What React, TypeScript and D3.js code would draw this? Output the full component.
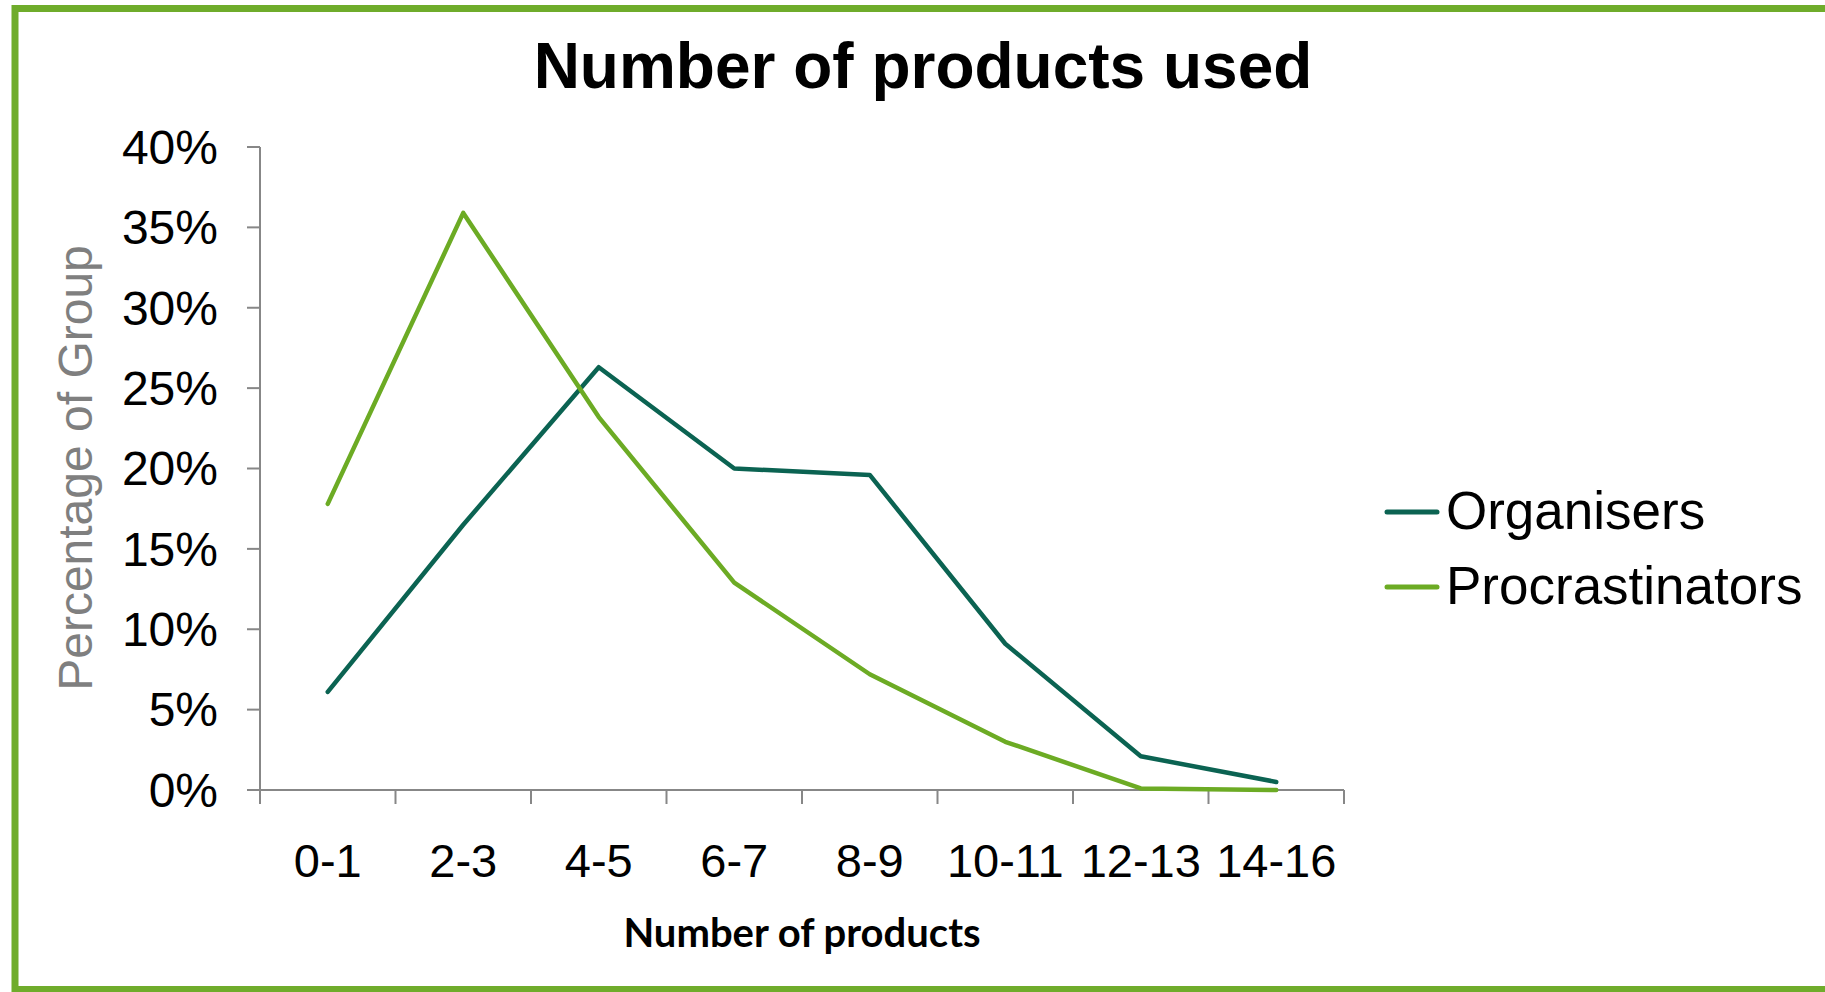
import React from "react";
import * as d3 from "d3";

// Product-count buckets and the share of each group falling into them
const categories = ["0-1", "2-3", "4-5", "6-7", "8-9", "10-11", "12-13", "14-16"];
const organisers = [0.061, 0.165, 0.263, 0.2, 0.196, 0.091, 0.021, 0.005];
const procrastinators = [0.178, 0.359, 0.232, 0.129, 0.072, 0.03, 0.001, 0.0];
const yTickValues = [0, 0.05, 0.1, 0.15, 0.2, 0.25, 0.3, 0.35, 0.4];

const seriesNames = ["Organisers", "Procrastinators"];
const seriesColors = ["#0b6352", "#6cab24"];

const W = 1825;
const H = 992;
const plot = { left: 260, right: 1344, top: 147, bottom: 790 };
const AXIS = "#878787";
const FONT = "'Liberation Sans', Arial, sans-serif";

export default function App() {
  const x = d3
    .scaleBand<string>()
    .domain(categories)
    .range([plot.left, plot.right]);
  const y = d3.scaleLinear().domain([0, 0.4]).range([plot.bottom, plot.top]);
  const cx = (c: string) => (x(c) as number) + x.bandwidth() / 2;

  const line = d3
    .line<number>()
    .x((_, i) => cx(categories[i]))
    .y((v) => y(v));

  const fmt = d3.format(".0%");
  const boundaries = [...categories.map((c) => x(c) as number), plot.right];
  const series = [organisers, procrastinators];

  return (
    <>
      <style>{`body{margin:0;}`}</style>
      <svg width={W} height={H} style={{ display: "block", background: "#fff" }}>
        {/* green frame */}
        <rect
          x={15}
          y={8.5}
          width={W + 20}
          height={981}
          fill="none"
          stroke="#6fac2b"
          strokeWidth={7}
        />

        <text
          x={923}
          y={88}
          textAnchor="middle"
          fontFamily={FONT}
          fontWeight="bold"
          fontSize={64}
          fill="#000"
        >
          Number of products used
        </text>

        {/* y axis */}
        <line x1={plot.left} x2={plot.left} y1={y(0.4)} y2={y(0)} stroke={AXIS} strokeWidth={2} />
        {yTickValues.map((t) => (
          <g key={t}>
            <line x1={plot.left - 13} x2={plot.left} y1={y(t)} y2={y(t)} stroke={AXIS} strokeWidth={2} />
            <text
              x={218}
              y={y(t)}
              dy="0.35em"
              textAnchor="end"
              fontFamily={FONT}
              fontSize={48}
              fill="#000"
            >
              {fmt(t)}
            </text>
          </g>
        ))}
        <text
          transform={`translate(92, 468) rotate(-90)`}
          textAnchor="middle"
          fontFamily={FONT}
          fontSize={48}
          fill="#7f7f7f"
        >
          Percentage of Group
        </text>

        {/* x axis */}
        <line x1={plot.left} x2={plot.right} y1={y(0)} y2={y(0)} stroke={AXIS} strokeWidth={2} />
        {boundaries.map((b, i) => (
          <line key={i} x1={b} x2={b} y1={y(0)} y2={y(0) + 14} stroke={AXIS} strokeWidth={2} />
        ))}
        {categories.map((c) => (
          <text
            key={c}
            x={cx(c)}
            y={877}
            textAnchor="middle"
            fontFamily={FONT}
            fontSize={47}
            fill="#000"
          >
            {c}
          </text>
        ))}
        <text
          x={(plot.left + plot.right) / 2}
          y={947}
          textAnchor="middle"
          fontFamily="Lato, 'Open Sans', sans-serif"
          fontWeight="bold"
          fontSize={40}
          fill="#000"
        >
          Number of products
        </text>

        {/* series lines */}
        {series.map((s, i) => (
          <path
            key={seriesNames[i]}
            d={line(s) as string}
            fill="none"
            stroke={seriesColors[i]}
            strokeWidth={4.5}
            strokeLinejoin="round"
            strokeLinecap="round"
          />
        ))}

        {/* legend */}
        {seriesNames.map((n, i) => (
          <g key={n} transform={`translate(0, ${512 + i * 75})`}>
            <line
              x1={1387}
              x2={1437}
              y1={0}
              y2={0}
              stroke={seriesColors[i]}
              strokeWidth={5}
              strokeLinecap="round"
            />
            <text x={1446} y={16.5} fontFamily={FONT} fontSize={53} fill="#000">
              {n}
            </text>
          </g>
        ))}
      </svg>
    </>
  );
}
